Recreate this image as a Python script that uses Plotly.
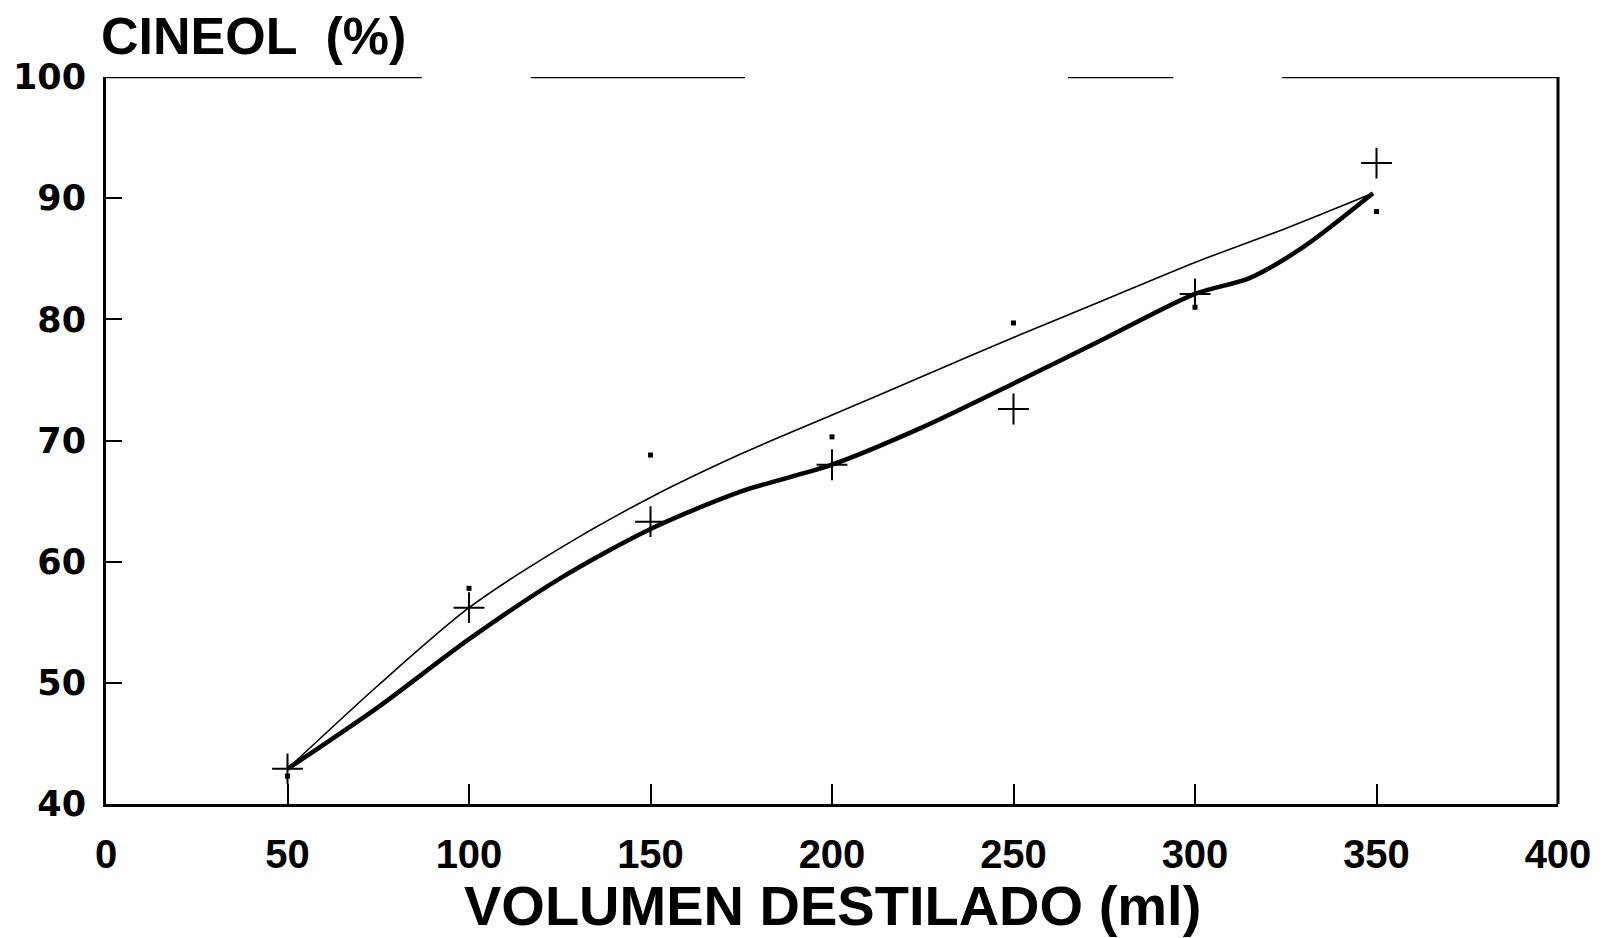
import plotly.graph_objects as go

# Measured points (+ markers) and second series (small squares)
x_points = [50, 100, 150, 200, 250, 300, 350]
cross_vals = [42.9, 56.2, 63.3, 68.0, 72.6, 82.1, 92.9]
square_vals = [42.3, 57.8, 68.8, 70.3, 79.7, 81.0, 88.9]

# Thick fitted curve
thick_x = [50, 75, 100, 125, 150, 175, 200, 225, 250, 275, 300, 315, 330, 349]
thick_y = [42.9, 48.0, 53.6, 58.6, 62.7, 65.8, 68.0, 71.1, 74.7, 78.4, 82.1, 83.4, 86.0, 90.4]

# Thin fitted curve
thin_x = [50, 75, 100, 125, 150, 175, 200, 225, 250, 275, 300, 325, 349]
thin_y = [42.9, 49.8, 56.2, 61.1, 65.3, 68.9, 72.1, 75.3, 78.5, 81.6, 84.7, 87.5, 90.4]

x_ticks = [0, 50, 100, 150, 200, 250, 300, 350, 400]
y_ticks = [40, 50, 60, 70, 80, 90, 100]

# broken top frame (style)
top_segments = [(0, 87), (117, 176), (265, 294), (324, 400)]

fig = go.Figure()
fig.add_trace(go.Scatter(x=thin_x, y=thin_y, mode="lines",
                         line=dict(color="black", width=1.6, shape="spline", smoothing=0.8),
                         showlegend=False, hoverinfo="skip"))
fig.add_trace(go.Scatter(x=thick_x, y=thick_y, mode="lines",
                         line=dict(color="black", width=4.5, shape="spline", smoothing=0.8),
                         showlegend=False, hoverinfo="skip"))
fig.add_trace(go.Scatter(x=x_points, y=cross_vals, mode="markers",
                         marker=dict(symbol="cross-thin", size=22, color="black",
                                     line=dict(color="black", width=2)),
                         showlegend=False))
fig.add_trace(go.Scatter(x=x_points, y=square_vals, mode="markers",
                         marker=dict(symbol="square", size=5, color="black"),
                         showlegend=False))

for a, b in top_segments:
    fig.add_shape(type="line", xref="x", yref="y", x0=a, x1=b, y0=100, y1=100,
                  line=dict(color="black", width=2.5))

fig.update_xaxes(range=[0, 400], tickvals=x_ticks, ticktext=[str(v) for v in x_ticks],
                 showgrid=False, zeroline=False, showline=True, linecolor="black", linewidth=3,
                 ticks="inside", ticklen=20, tickwidth=2, tickcolor="black",
                 tickfont=dict(family="Liberation Sans", size=40, color="black", weight="bold"),
                 ticklabelstandoff=13)
fig.update_yaxes(range=[40, 100], tickvals=y_ticks, ticktext=[str(v) for v in y_ticks],
                 showgrid=False, zeroline=False, showline=True, linecolor="black", linewidth=3,
                 mirror=False,
                 ticks="inside", ticklen=16, tickwidth=2, tickcolor="black",
                 tickfont=dict(family="DejaVu Sans", size=35, color="black", weight="bold"),
                 ticklabelstandoff=10)

# right frame line
fig.add_shape(type="line", xref="paper", yref="paper", x0=1, x1=1, y0=0, y1=1,
              line=dict(color="black", width=3))

fig.add_annotation(text="CINEOL  (%)", xref="paper", yref="paper", x=-0.0045, y=1.056,
                   xanchor="left", yanchor="middle", showarrow=False,
                   font=dict(family="Liberation Sans", size=52, color="black", weight="bold"))
fig.add_annotation(text="VOLUMEN DESTILADO (ml)", xref="paper", yref="paper", x=0.5, y=-0.139,
                   xanchor="center", yanchor="middle", showarrow=False,
                   font=dict(family="Liberation Sans", size=56, color="black", weight="bold"))

fig.update_layout(width=1605, height=938, plot_bgcolor="white", paper_bgcolor="white",
                  margin=dict(l=106, r=47, t=77, b=134))

fig.write_html("out.html")
